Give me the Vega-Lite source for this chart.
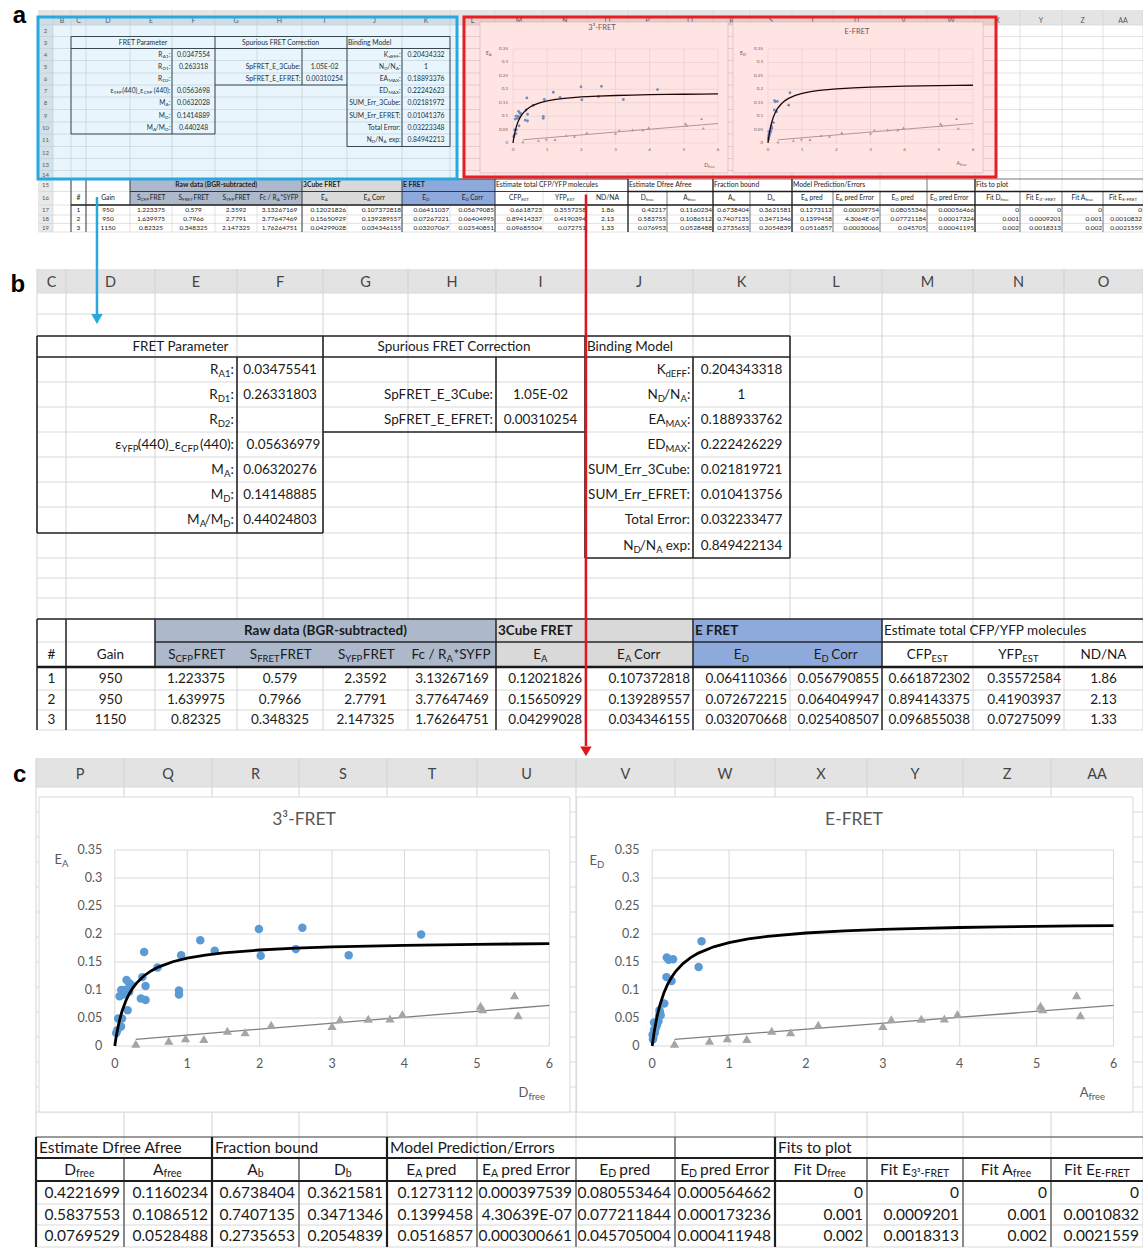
{
"$schema":"https://vega.github.io/schema/vega-lite/v6.json",
"width":1143,"height":1249,"padding":0,"autosize":{"type":"none"},
"background":"#ffffff",
"config":{"view":{"stroke":null},"axis":{"disable":true},"legend":{"disable":true},"font":"Lato"},
"datasets":{
"colbounds":[{"col":1},{"col":2},{"col":3},{"col":4},{"col":5},{"col":6},{"col":7},{"col":8},{"col":9},{"col":10},{"col":11},{"col":12},{"col":13},{"col":14},{"col":15},{"col":16},{"col":17},{"col":18},{"col":19},{"col":20},{"col":21},{"col":22},{"col":23},{"col":24},{"col":25},{"col":26},{"col":27},{"col":28}],
"rowbounds":[{"row":0},{"row":1},{"row":2},{"row":3},{"row":4},{"row":5},{"row":6},{"row":7},{"row":8},{"row":9},{"row":10},{"row":11},{"row":12},{"row":13},{"row":14},{"row":15},{"row":16},{"row":17},{"row":18},{"row":19},{"row":20}],
"letters":[{"col":2.5,"t":"B"},{"col":3.5,"t":"C"},{"col":4.5,"t":"D"},{"col":5.5,"t":"E"},{"col":6.5,"t":"F"},{"col":7.5,"t":"G"},{"col":8.5,"t":"H"},{"col":9.5,"t":"I"},{"col":10.5,"t":"J"},{"col":11.5,"t":"K"},{"col":12.5,"t":"L"},{"col":13.5,"t":"M"},{"col":14.5,"t":"N"},{"col":15.5,"t":"O"},{"col":16.5,"t":"P"},{"col":17.5,"t":"Q"},{"col":18.5,"t":"R"},{"col":19.5,"t":"S"},{"col":20.5,"t":"T"},{"col":21.5,"t":"U"},{"col":22.5,"t":"V"},{"col":23.5,"t":"W"},{"col":24.5,"t":"X"},{"col":25.5,"t":"Y"},{"col":26.5,"t":"Z"},{"col":27.5,"t":"AA"}],
"rownums":[{"row":2.5,"t":"2"},{"row":3.5,"t":"3"},{"row":4.5,"t":"4"},{"row":5.5,"t":"5"},{"row":6.5,"t":"6"},{"row":7.5,"t":"7"},{"row":8.5,"t":"8"},{"row":9.5,"t":"9"},{"row":10.5,"t":"10"},{"row":11.5,"t":"11"},{"row":12.5,"t":"12"},{"row":13.5,"t":"13"},{"row":14.5,"t":"14"},{"row":15.5,"t":"15"},{"row":16.5,"t":"16"},{"row":17.5,"t":"17"},{"row":18.5,"t":"18"},{"row":19.5,"t":"19"}],
"left_fills":[{"col":5,"col2":9,"row":15,"row2":17,"group":"Raw data"},{"col":9,"col2":11,"row":15,"row2":17,"group":"3Cube FRET"},{"col":11,"col2":13,"row":15,"row2":17,"group":"E FRET"}],
"a_chartareas":[{"col":12.667,"col2":18.405,"row":1.8,"row2":14.29,"chart":"3³-FRET"},{"col":18.54,"col2":24.18,"row":1.8,"row2":14.29,"chart":"E-FRET"}],
"c_chartareas":[{"col":16.034,"col2":21.939,"row":1.4,"row2":14,"chart":"3³-FRET"},{"col":22.006,"col2":27.891,"row":1.4,"row2":14,"chart":"E-FRET"}],
"top_lines":[{"col":3,"col2":12,"row":3,"row2":3},{"col":3,"col2":12,"row":4,"row2":4},{"col":3,"col2":7,"row":11,"row2":11},{"col":7,"col2":10,"row":7,"row2":7},{"col":10,"col2":12,"row":12,"row2":12},{"col":3,"col2":3,"row":3,"row2":11},{"col":7,"col2":7,"row":3,"row2":11},{"col":10,"col2":10,"row":3,"row2":12},{"col":12,"col2":12,"row":3,"row2":12},{"col":6,"col2":6,"row":4,"row2":11},{"col":9,"col2":9,"row":4,"row2":7},{"col":11,"col2":11,"row":4,"row2":12}],
"left_lines":[{"col":3,"col2":16,"row":15,"row2":15},{"col":5,"col2":16,"row":16,"row2":16},{"col":3,"col2":3,"row":15,"row2":20},{"col":4,"col2":4,"row":15,"row2":20},{"col":5,"col2":5,"row":15,"row2":17},{"col":9,"col2":9,"row":15,"row2":20},{"col":11,"col2":11,"row":15,"row2":20},{"col":13,"col2":13,"row":15,"row2":20}],
"left_thick":[{"col":3,"col2":16,"row":17,"row2":17}],
"right_lines":[{"col":16,"col2":28,"row":15,"row2":15},{"col":17,"col2":17,"row":16,"row2":20},{"col":19,"col2":19,"row":16,"row2":20},{"col":21,"col2":21,"row":16,"row2":20},{"col":22,"col2":22,"row":16,"row2":20},{"col":23,"col2":23,"row":15,"row2":20},{"col":25,"col2":25,"row":16,"row2":20},{"col":26,"col2":26,"row":16,"row2":20},{"col":27,"col2":27,"row":16,"row2":20}],
"right_thick":[{"col":16,"col2":28,"row":16,"row2":16},{"col":16,"col2":28,"row":17,"row2":17},{"col":16,"col2":16,"row":15,"row2":20},{"col":18,"col2":18,"row":15,"row2":20},{"col":20,"col2":20,"row":15,"row2":20},{"col":24,"col2":24,"row":15,"row2":20}],
"lab_c":[{"col":5.311,"row":3.5,"t":"FRET Parameter"},{"col":8.523,"row":3.5,"t":"Spurious FRET Correction"},{"col":3.5,"row":16.5,"t":"#"},{"col":4.5,"row":16.5,"t":"Gain"},{"col":15.5,"row":16.5,"t":"ND/NA"}],
"lab_r":[{"col":9,"row":5.5,"t":"SpFRET_E_3Cube:"},{"col":9,"row":6.5,"t":"SpFRET_E_EFRET:"},{"col":11,"row":8.5,"t":"SUM_Err_3Cube:"},{"col":11,"row":9.5,"t":"SUM_Err_EFRET:"},{"col":11,"row":10.5,"t":"Total Error:"}],
"lab_l":[{"col":10,"row":3.5,"t":"Binding Model"},{"col":13,"row":15.5,"t":"Estimate total CFP/YFP molecules"},{"col":16,"row":15.5,"t":"Estimate Dfree Afree"},{"col":18,"row":15.5,"t":"Fraction bound"},{"col":20,"row":15.5,"t":"Model Prediction/Errors"},{"col":24,"row":15.5,"t":"Fits to plot"}],
"lab_bold_c":[{"col":7.029,"row":15.5,"t":"Raw data (BGR-subtracted)"}],
"lab_bold_l":[{"col":9,"row":15.5,"t":"3Cube FRET"},{"col":11,"row":15.5,"t":"E FRET"}],
"seg_r":[{"col":5.9634,"row":4.5,"t":":"},{"col":5.7732,"row":4.5,"t":"R"},{"col":5.9634,"row":5.5,"t":":"},{"col":5.7659,"row":5.5,"t":"R"},{"col":5.9634,"row":6.5,"t":":"},{"col":5.7659,"row":6.5,"t":"R"},{"col":5.9634,"row":7.5,"t":"(440):"},{"col":5.3159,"row":7.5,"t":"(440)_ε"},{"col":4.6225,"row":7.5,"t":"ε"},{"col":5.9634,"row":8.5,"t":":"},{"col":5.8402,"row":8.5,"t":"M"},{"col":5.9634,"row":9.5,"t":":"},{"col":5.8329,"row":9.5,"t":"M"},{"col":5.9634,"row":10.5,"t":":"},{"col":5.8329,"row":10.5,"t":"/M"},{"col":5.5439,"row":10.5,"t":"M"},{"col":10.9769,"row":4.5,"t":":"},{"col":10.7463,"row":4.5,"t":"K"},{"col":10.9769,"row":5.5,"t":":"},{"col":10.8833,"row":5.5,"t":"/N"},{"col":10.675,"row":5.5,"t":"N"},{"col":10.9769,"row":6.5,"t":":"},{"col":10.7454,"row":6.5,"t":"EA"},{"col":10.9769,"row":7.5,"t":":"},{"col":10.7454,"row":7.5,"t":"ED"},{"col":10.9769,"row":11.5,"t":"exp:"},{"col":10.6583,"row":11.5,"t":"/N"},{"col":10.45,"row":11.5,"t":"N"},{"col":5.25,"row":16.5,"t":"S"},{"col":6.2349,"row":16.5,"t":"S"},{"col":7.2618,"row":16.5,"t":"S"},{"col":8.4369,"row":16.5,"t":"Fc / R"},{"col":9.5051,"row":16.5,"t":"E"},{"col":10.3694,"row":16.5,"t":"E"},{"col":11.5015,"row":16.5,"t":"E"},{"col":12.3435,"row":16.5,"t":"E"},{"col":13.5445,"row":16.5,"t":"CFP"},{"col":14.5418,"row":16.5,"t":"YFP"},{"col":16.4551,"row":16.5,"t":"D"},{"col":17.4489,"row":16.5,"t":"A"},{"col":18.5253,"row":16.5,"t":"A"},{"col":19.5313,"row":16.5,"t":"D"},{"col":20.3128,"row":16.5,"t":"E"},{"col":21.1409,"row":16.5,"t":"E"},{"col":22.3263,"row":16.5,"t":"E"},{"col":23.141,"row":16.5,"t":"E"},{"col":24.569,"row":16.5,"t":"Fit D"},{"col":25.4583,"row":16.5,"t":"Fit E"},{"col":26.5659,"row":16.5,"t":"Fit A"},{"col":27.4783,"row":16.5,"t":"Fit E"}],
"sub_r":[{"col":5.9195,"row":4.5,"t":"A1"},{"col":5.9195,"row":5.5,"t":"D1"},{"col":5.9195,"row":6.5,"t":"D2"},{"col":5.5305,"row":7.5,"t":"CFP"},{"col":4.8146,"row":7.5,"t":"YFP"},{"col":5.9195,"row":8.5,"t":"A"},{"col":5.9195,"row":9.5,"t":"D"},{"col":5.9195,"row":10.5,"t":"D"},{"col":5.6232,"row":10.5,"t":"A"},{"col":10.9435,"row":4.5,"t":"dEFF"},{"col":10.9435,"row":5.5,"t":"A"},{"col":10.7407,"row":5.5,"t":"D"},{"col":10.9435,"row":6.5,"t":"MAX"},{"col":10.9435,"row":7.5,"t":"MAX"},{"col":10.7185,"row":11.5,"t":"A"},{"col":10.5157,"row":11.5,"t":"D"}],
"sub_l":[{"col":5.25,"row":16.5,"t":"CFP"},{"col":6.2349,"row":16.5,"t":"FRET"},{"col":7.2618,"row":16.5,"t":"YFP"},{"col":8.4369,"row":16.5,"t":"A"},{"col":9.5051,"row":16.5,"t":"A"},{"col":10.3694,"row":16.5,"t":"A"},{"col":11.5015,"row":16.5,"t":"D"},{"col":12.3435,"row":16.5,"t":"D"},{"col":13.5445,"row":16.5,"t":"EST"},{"col":14.5418,"row":16.5,"t":"EST"},{"col":16.4551,"row":16.5,"t":"free"},{"col":17.4489,"row":16.5,"t":"free"},{"col":18.5253,"row":16.5,"t":"b"},{"col":19.5313,"row":16.5,"t":"b"},{"col":20.3128,"row":16.5,"t":"A"},{"col":21.1409,"row":16.5,"t":"A"},{"col":22.3263,"row":16.5,"t":"D"},{"col":23.141,"row":16.5,"t":"D"},{"col":24.569,"row":16.5,"t":"free"},{"col":25.4583,"row":16.5,"t":"3³-FRET"},{"col":26.5659,"row":16.5,"t":"free"},{"col":27.4783,"row":16.5,"t":"E-FRET"}],
"seg_l":[{"col":5.4707,"row":16.5,"t":"FRET"},{"col":6.4988,"row":16.5,"t":"FRET"},{"col":7.4688,"row":16.5,"t":"FRET"},{"col":8.5165,"row":16.5,"t":"*SYFP"},{"col":10.4537,"row":16.5,"t":"Corr"},{"col":12.4489,"row":16.5,"t":"Corr"},{"col":20.4272,"row":16.5,"t":"pred"},{"col":21.2449,"row":16.5,"t":"pred Error"},{"col":22.4374,"row":16.5,"t":"pred"},{"col":23.251,"row":16.5,"t":"pred Error"}],
"bot_c":[{"col":3.5,"row":17.5,"t":"1"},{"col":3.5,"row":18.5,"t":"2"},{"col":3.5,"row":19.5,"t":"3"},{"col":4.5,"row":17.5,"t":"950"},{"col":4.5,"row":18.5,"t":"950"},{"col":4.5,"row":19.5,"t":"1150"},{"col":5.5,"row":17.5,"t":"1.223375"},{"col":5.5,"row":18.5,"t":"1.639975"},{"col":5.5,"row":19.5,"t":"0.82325"},{"col":6.5,"row":17.5,"t":"0.579"},{"col":6.5,"row":18.5,"t":"0.7966"},{"col":6.5,"row":19.5,"t":"0.348325"},{"col":7.5,"row":17.5,"t":"2.3592"},{"col":7.5,"row":18.5,"t":"2.7791"},{"col":7.5,"row":19.5,"t":"2.147325"},{"col":8.5,"row":17.5,"t":"3.13267169"},{"col":8.5,"row":18.5,"t":"3.77647469"},{"col":8.5,"row":19.5,"t":"1.76264751"},{"col":15.5,"row":17.5,"t":"1.86"},{"col":15.5,"row":18.5,"t":"2.13"},{"col":15.5,"row":19.5,"t":"1.33"}],
"a_top_vals":[{"col":6.5,"row":4.5,"t":"0.0347554"},{"col":6.5,"row":5.5,"t":"0.263318"},{"col":6.5,"row":7.5,"t":"0.0563698"},{"col":6.5,"row":8.5,"t":"0.0632028"},{"col":6.5,"row":9.5,"t":"0.1414889"},{"col":6.5,"row":10.5,"t":"0.440248"},{"col":9.5,"row":5.5,"t":"1.05E-02"},{"col":9.5,"row":6.5,"t":"0.00310254"},{"col":11.5,"row":4.5,"t":"0.20434332"},{"col":11.5,"row":5.5,"t":"1"},{"col":11.5,"row":6.5,"t":"0.18893376"},{"col":11.5,"row":7.5,"t":"0.22242623"},{"col":11.5,"row":8.5,"t":"0.02181972"},{"col":11.5,"row":9.5,"t":"0.01041376"},{"col":11.5,"row":10.5,"t":"0.03223348"},{"col":11.5,"row":11.5,"t":"0.84942213"}],
"b_top_vals":[{"col":6.5,"row":4.5,"t":"0.03475541"},{"col":6.5,"row":5.5,"t":"0.26331803"},{"col":6.54,"row":7.5,"t":"0.05636979"},{"col":6.5,"row":8.5,"t":"0.06320276"},{"col":6.5,"row":9.5,"t":"0.14148885"},{"col":6.5,"row":10.5,"t":"0.44024803"},{"col":9.5,"row":5.5,"t":"1.05E-02"},{"col":9.5,"row":6.5,"t":"0.00310254"},{"col":11.5,"row":4.5,"t":"0.204343318"},{"col":11.5,"row":5.5,"t":"1"},{"col":11.5,"row":6.5,"t":"0.188933762"},{"col":11.5,"row":7.5,"t":"0.222426229"},{"col":11.5,"row":8.5,"t":"0.021819721"},{"col":11.5,"row":9.5,"t":"0.010413756"},{"col":11.5,"row":10.5,"t":"0.032233477"},{"col":11.5,"row":11.5,"t":"0.849422134"}],
"a_bot_r":[{"col":10,"row":17.5,"t":"0.12021826"},{"col":10,"row":18.5,"t":"0.15650929"},{"col":10,"row":19.5,"t":"0.04299028"},{"col":11,"row":17.5,"t":"0.107372818"},{"col":11,"row":18.5,"t":"0.139289557"},{"col":11,"row":19.5,"t":"0.034346155"},{"col":12,"row":17.5,"t":"0.06411037"},{"col":12,"row":18.5,"t":"0.07267221"},{"col":12,"row":19.5,"t":"0.03207067"},{"col":13,"row":17.5,"t":"0.05679085"},{"col":13,"row":18.5,"t":"0.06404995"},{"col":13,"row":19.5,"t":"0.02540851"},{"col":14,"row":17.5,"t":"0.6618723"},{"col":14,"row":18.5,"t":"0.89414337"},{"col":14,"row":19.5,"t":"0.09685504"},{"col":15,"row":17.5,"t":"0.3557258"},{"col":15,"row":18.5,"t":"0.4190394"},{"col":15,"row":19.5,"t":"0.072751"},{"col":17,"row":17.5,"t":"0.42217"},{"col":17,"row":18.5,"t":"0.583755"},{"col":17,"row":19.5,"t":"0.076953"},{"col":18,"row":17.5,"t":"0.1160234"},{"col":18,"row":18.5,"t":"0.1086512"},{"col":18,"row":19.5,"t":"0.0528488"},{"col":19,"row":17.5,"t":"0.6738404"},{"col":19,"row":18.5,"t":"0.7407135"},{"col":19,"row":19.5,"t":"0.2735653"},{"col":20,"row":17.5,"t":"0.3621581"},{"col":20,"row":18.5,"t":"0.3471346"},{"col":20,"row":19.5,"t":"0.2054839"},{"col":21,"row":17.5,"t":"0.1273112"},{"col":21,"row":18.5,"t":"0.1399458"},{"col":21,"row":19.5,"t":"0.0516857"},{"col":22,"row":17.5,"t":"0.00039754"},{"col":22,"row":18.5,"t":"4.3064E-07"},{"col":22,"row":19.5,"t":"0.00030066"},{"col":23,"row":17.5,"t":"0.08055346"},{"col":23,"row":18.5,"t":"0.07721184"},{"col":23,"row":19.5,"t":"0.045705"},{"col":24,"row":17.5,"t":"0.00056466"},{"col":24,"row":18.5,"t":"0.00017324"},{"col":24,"row":19.5,"t":"0.00041195"},{"col":25,"row":17.5,"t":"0"},{"col":25,"row":18.5,"t":"0.001"},{"col":25,"row":19.5,"t":"0.002"},{"col":26,"row":17.5,"t":"0"},{"col":26,"row":18.5,"t":"0.0009201"},{"col":26,"row":19.5,"t":"0.0018313"},{"col":27,"row":17.5,"t":"0"},{"col":27,"row":18.5,"t":"0.001"},{"col":27,"row":19.5,"t":"0.002"},{"col":28,"row":17.5,"t":"0"},{"col":28,"row":18.5,"t":"0.0010832"},{"col":28,"row":19.5,"t":"0.0021559"}],
"b_bot_r":[{"col":10,"row":17.5,"t":"0.12021826"},{"col":10,"row":18.5,"t":"0.15650929"},{"col":10,"row":19.5,"t":"0.04299028"},{"col":11,"row":17.5,"t":"0.107372818"},{"col":11,"row":18.5,"t":"0.139289557"},{"col":11,"row":19.5,"t":"0.034346155"},{"col":12,"row":17.5,"t":"0.064110366"},{"col":12,"row":18.5,"t":"0.072672215"},{"col":12,"row":19.5,"t":"0.032070668"},{"col":13,"row":17.5,"t":"0.056790855"},{"col":13,"row":18.5,"t":"0.064049947"},{"col":13,"row":19.5,"t":"0.025408507"},{"col":14,"row":17.5,"t":"0.661872302"},{"col":14,"row":18.5,"t":"0.894143375"},{"col":14,"row":19.5,"t":"0.096855038"},{"col":15,"row":17.5,"t":"0.35572584"},{"col":15,"row":18.5,"t":"0.41903937"},{"col":15,"row":19.5,"t":"0.07275099"}],
"c_bot_r":[{"col":17,"row":17.5,"t":"0.4221699"},{"col":17,"row":18.5,"t":"0.5837553"},{"col":17,"row":19.5,"t":"0.0769529"},{"col":18,"row":17.5,"t":"0.1160234"},{"col":18,"row":18.5,"t":"0.1086512"},{"col":18,"row":19.5,"t":"0.0528488"},{"col":19,"row":17.5,"t":"0.6738404"},{"col":19,"row":18.5,"t":"0.7407135"},{"col":19,"row":19.5,"t":"0.2735653"},{"col":20,"row":17.5,"t":"0.3621581"},{"col":20,"row":18.5,"t":"0.3471346"},{"col":20,"row":19.5,"t":"0.2054839"},{"col":21,"row":17.5,"t":"0.1273112"},{"col":21,"row":18.5,"t":"0.1399458"},{"col":21,"row":19.5,"t":"0.0516857"},{"col":22,"row":17.5,"t":"0.000397539"},{"col":22,"row":18.5,"t":"4.30639E-07"},{"col":22,"row":19.5,"t":"0.000300661"},{"col":23,"row":17.5,"t":"0.080553464"},{"col":23,"row":18.5,"t":"0.077211844"},{"col":23,"row":19.5,"t":"0.045705004"},{"col":24,"row":17.5,"t":"0.000564662"},{"col":24,"row":18.5,"t":"0.000173236"},{"col":24,"row":19.5,"t":"0.000411948"},{"col":25,"row":17.5,"t":"0"},{"col":25,"row":18.5,"t":"0.001"},{"col":25,"row":19.5,"t":"0.002"},{"col":26,"row":17.5,"t":"0"},{"col":26,"row":18.5,"t":"0.0009201"},{"col":26,"row":19.5,"t":"0.0018313"},{"col":27,"row":17.5,"t":"0"},{"col":27,"row":18.5,"t":"0.001"},{"col":27,"row":19.5,"t":"0.002"},{"col":28,"row":17.5,"t":"0"},{"col":28,"row":18.5,"t":"0.0010832"},{"col":28,"row":19.5,"t":"0.0021559"}],
"pts_3cube":[{"conc":0.02,"E":0.023},{"conc":0.035,"E":0.028},{"conc":0.086,"E":0.035},{"conc":0.046,"E":0.049},{"conc":0.1,"E":0.049},{"conc":0.066,"E":0.089},{"conc":0.09,"E":0.1},{"conc":0.127,"E":0.092},{"conc":0.137,"E":0.1},{"conc":0.162,"E":0.118},{"conc":0.198,"E":0.097},{"conc":0.2,"E":0.112},{"conc":0.177,"E":0.064},{"conc":0.228,"E":0.109},{"conc":0.38,"E":0.123},{"conc":0.36,"E":0.085},{"conc":0.425,"E":0.082},{"conc":0.425,"E":0.107},{"conc":0.405,"E":0.168},{"conc":0.59,"E":0.14},{"conc":0.886,"E":0.099},{"conc":0.886,"E":0.092},{"conc":0.916,"E":0.162},{"conc":1.18,"E":0.189},{"conc":1.38,"E":0.17},{"conc":1.99,"E":0.209},{"conc":2.015,"E":0.161},{"conc":2.5,"E":0.173},{"conc":2.59,"E":0.211},{"conc":3.23,"E":0.162},{"conc":4.23,"E":0.199}],
"pts_efret":[{"conc":0.005,"E":0.02},{"conc":0.01,"E":0.012},{"conc":0.014,"E":0.015},{"conc":0.024,"E":0.029},{"conc":0.033,"E":0.023},{"conc":0.024,"E":0.042},{"conc":0.04,"E":0.03},{"conc":0.052,"E":0.035},{"conc":0.062,"E":0.038},{"conc":0.081,"E":0.044},{"conc":0.09,"E":0.054},{"conc":0.1,"E":0.06},{"conc":0.095,"E":0.064},{"conc":0.11,"E":0.055},{"conc":0.157,"E":0.076},{"conc":0.185,"E":0.123},{"conc":0.252,"E":0.116},{"conc":0.19,"E":0.158},{"conc":0.214,"E":0.154},{"conc":0.271,"E":0.155},{"conc":0.604,"E":0.141},{"conc":0.642,"E":0.187}],
"tri":[{"conc":0.29,"E":0.004},{"conc":0.745,"E":0.0095},{"conc":0.977,"E":0.0137},{"conc":1.23,"E":0.0125},{"conc":1.555,"E":0.0274},{"conc":1.8,"E":0.0244},{"conc":2.16,"E":0.038},{"conc":3.0,"E":0.0357},{"conc":3.11,"E":0.0476},{"conc":3.5,"E":0.0488},{"conc":3.8,"E":0.049},{"conc":3.97,"E":0.057},{"conc":5.05,"E":0.072},{"conc":5.08,"E":0.0655},{"conc":5.52,"E":0.0905},{"conc":5.57,"E":0.055}],
"trend":[{"conc":0.29,"E":0.0119},{"conc":6,"E":0.0726}],
"fit_3cube":[{"conc":0,"E":0},{"conc":0.005,"E":0.00451},{"conc":0.01,"E":0.00882},{"conc":0.02,"E":0.01684},{"conc":0.03,"E":0.02419},{"conc":0.05,"E":0.03714},{"conc":0.07,"E":0.04821},{"conc":0.1,"E":0.06208},{"conc":0.15,"E":0.07998},{"conc":0.2,"E":0.09345},{"conc":0.25,"E":0.10396},{"conc":0.3,"E":0.11238},{"conc":0.4,"E":0.12505},{"conc":0.5,"E":0.13412},{"conc":0.6,"E":0.14093},{"conc":0.8,"E":0.15049},{"conc":1,"E":0.15687},{"conc":1.25,"E":0.16238},{"conc":1.5,"E":0.16628},{"conc":2,"E":0.17142},{"conc":2.5,"E":0.17466},{"conc":3,"E":0.17689},{"conc":3.5,"E":0.17851},{"conc":4,"E":0.17975},{"conc":4.5,"E":0.18072},{"conc":5,"E":0.18151},{"conc":5.5,"E":0.18216},{"conc":6,"E":0.18271}],
"fit_efret":[{"conc":0,"E":0},{"conc":0.005,"E":0.00531},{"conc":0.01,"E":0.01038},{"conc":0.02,"E":0.01983},{"conc":0.03,"E":0.02848},{"conc":0.05,"E":0.04373},{"conc":0.07,"E":0.05676},{"conc":0.1,"E":0.07309},{"conc":0.15,"E":0.09416},{"conc":0.2,"E":0.11002},{"conc":0.25,"E":0.12239},{"conc":0.3,"E":0.13231},{"conc":0.4,"E":0.14722},{"conc":0.5,"E":0.1579},{"conc":0.6,"E":0.16592},{"conc":0.8,"E":0.17718},{"conc":1,"E":0.18469},{"conc":1.25,"E":0.19118},{"conc":1.5,"E":0.19576},{"conc":2,"E":0.20181},{"conc":2.5,"E":0.20563},{"conc":3,"E":0.20825},{"conc":3.5,"E":0.21016},{"conc":4,"E":0.21162},{"conc":4.5,"E":0.21277},{"conc":5,"E":0.2137},{"conc":5.5,"E":0.21446},{"conc":6,"E":0.2151}],
"yticks":[{"v":0},{"v":0.05},{"v":0.1},{"v":0.15},{"v":0.2},{"v":0.25},{"v":0.3},{"v":0.35}],
"xticks":[{"v":0},{"v":1},{"v":2},{"v":3},{"v":4},{"v":5},{"v":6}]
},
"resolve":{"scale":{"x":"independent","y":"independent","color":"independent"}},
"layer":[
{
"layer":[
{"data":{"values":[{"part":"column header"}]},"mark":{"type":"rect","fill":"#e4e4e4"},"encoding":{"x":{"datum":1,"type":"quantitative"},"x2":{"datum":28},"y":{"datum":1,"type":"quantitative"},"y2":{"datum":2}}},
{"data":{"values":[{"part":"row header"}]},"mark":{"type":"rect","fill":"#e9e9e9"},"encoding":{"x":{"datum":1,"type":"quantitative"},"x2":{"datum":2},"y":{"datum":2,"type":"quantitative"},"y2":{"datum":20}}},
{"data":{"name":"colbounds"},"transform":[{"filter":"datum.col >= 2"}],"mark":{"type":"rule","color":"#d0d0d0","strokeWidth":0.6},"encoding":{"x":{"field":"col","type":"quantitative"},"y":{"datum":1,"type":"quantitative"},"y2":{"datum":20}}},
{"data":{"name":"rowbounds"},"transform":[{"filter":"datum.row >= 2"}],"mark":{"type":"rule","color":"#d0d0d0","strokeWidth":0.6},"encoding":{"y":{"field":"row","type":"quantitative"},"x":{"datum":1,"type":"quantitative"},"x2":{"datum":28}}},
{"data":{"name":"letters"},"mark":{"type":"text","fontSize":7,"color":"#555555","align":"center","baseline":"middle"},"encoding":{"x":{"field":"col","type":"quantitative"},"y":{"datum":1.73,"type":"quantitative"},"text":{"field":"t","type":"nominal"}}},
{"data":{"name":"rownums"},"mark":{"type":"text","fontSize":6,"color":"#555555","align":"center","baseline":"middle"},"encoding":{"y":{"field":"row","type":"quantitative"},"x":{"datum":1.5,"type":"quantitative"},"text":{"field":"t","type":"nominal"}}},
{
"encoding":{"x":{"field":"col","type":"quantitative","axis":null,"scale":{"domain":[0,1,2,3,4,5,6,7,8,9,10,11,12,13,14,15,16,17,18,19,20,21,22,23,24,25,26,27,28],"range":[0,38,53,71,86,130,172,215,257,302,347,402,450,495,543,587,628,667,713,750,792,833,880,927,975,1020,1062,1103,1143],"nice":false,"zero":false}},
"y":{"field":"row","type":"quantitative","axis":null,"scale":{"domain":[0,1,2,3,4,5,6,7,8,9,10,11,12,13,14,15,16,17,18,19,20],"range":[0,10,25,36.5,48.5,60.5,73,85,97,109.5,122,134,146.5,158.5,170.5,179,191.5,205,215,223.5,232],"nice":false,"zero":false}}},
"layer":[
{"data":{"name":"left_fills"},"mark":{"type":"rect"},"encoding":{"x2":{"field":"col2"},"y2":{"field":"row2"},"color":{"field":"group","type":"nominal","legend":null,"scale":{"domain":["Raw data","3Cube FRET","E FRET"],"range":["#adb9cb","#d9d9d9","#8eaadc"]}}}},
{"data":{"name":"a_chartareas"},"mark":{"type":"rect","fill":"#ffffff","stroke":"#c8c8c8","strokeWidth":0.6},"encoding":{"x2":{"field":"col2"},"y2":{"field":"row2"}}},
{"data":{"name":"top_lines"},"mark":{"type":"rule","color":"#2a2a2a","strokeWidth":0.9},"encoding":{"x2":{"field":"col2"},"y2":{"field":"row2"}}},
{"data":{"name":"left_lines"},"mark":{"type":"rule","color":"#2a2a2a","strokeWidth":0.9},"encoding":{"x2":{"field":"col2"},"y2":{"field":"row2"}}},
{"data":{"name":"right_lines"},"mark":{"type":"rule","color":"#555555","strokeWidth":0.7},"encoding":{"x2":{"field":"col2"},"y2":{"field":"row2"}}},
{"data":{"name":"left_thick"},"mark":{"type":"rule","color":"#1e1e1e","strokeWidth":1.6},"encoding":{"x2":{"field":"col2"},"y2":{"field":"row2"}}},
{"data":{"name":"right_thick"},"mark":{"type":"rule","color":"#1e1e1e","strokeWidth":1.3},"encoding":{"x2":{"field":"col2"},"y2":{"field":"row2"}}},
{"data":{"name":"lab_c"},"mark":{"type":"text","fontSize":6.8,"color":"#222222","align":"center","baseline":"middle"},"encoding":{"text":{"field":"t","type":"nominal"}}},
{"data":{"name":"lab_r"},"mark":{"type":"text","fontSize":6.8,"color":"#222222","align":"right","baseline":"middle","dx":-1.5},"encoding":{"text":{"field":"t","type":"nominal"}}},
{"data":{"name":"lab_l"},"mark":{"type":"text","fontSize":6.8,"color":"#222222","align":"left","baseline":"middle","dx":1},"encoding":{"text":{"field":"t","type":"nominal"}}},
{"data":{"name":"lab_bold_c"},"mark":{"type":"text","fontSize":6.8,"fontWeight":"bold","color":"#222222","align":"center","baseline":"middle"},"encoding":{"text":{"field":"t","type":"nominal"}}},
{"data":{"name":"lab_bold_l"},"mark":{"type":"text","fontSize":6.8,"fontWeight":"bold","color":"#222222","align":"left","baseline":"middle","dx":1},"encoding":{"text":{"field":"t","type":"nominal"}}},
{"data":{"name":"seg_r"},"mark":{"type":"text","fontSize":6.6,"color":"#222222","align":"right","baseline":"middle"},"encoding":{"text":{"field":"t","type":"nominal"}}},
{"data":{"name":"seg_l"},"mark":{"type":"text","fontSize":6.6,"color":"#222222","align":"left","baseline":"middle"},"encoding":{"text":{"field":"t","type":"nominal"}}},
{"data":{"name":"sub_r"},"mark":{"type":"text","fontSize":4.6,"color":"#222222","align":"right","baseline":"middle","dy":2},"encoding":{"text":{"field":"t","type":"nominal"}}},
{"data":{"name":"sub_l"},"mark":{"type":"text","fontSize":4.6,"color":"#222222","align":"left","baseline":"middle","dy":2},"encoding":{"text":{"field":"t","type":"nominal"}}},
{"data":{"name":"a_top_vals"},"mark":{"type":"text","fontSize":6.8,"color":"#222222","align":"center","baseline":"middle"},"encoding":{"text":{"field":"t","type":"nominal"}}},
{"data":{"name":"bot_c"},"mark":{"type":"text","fontSize":6.5,"color":"#222222","align":"center","baseline":"middle"},"encoding":{"text":{"field":"t","type":"nominal"}}},
{"data":{"name":"a_bot_r"},"mark":{"type":"text","fontSize":6.5,"color":"#222222","align":"right","baseline":"middle","dx":-1},"encoding":{"text":{"field":"t","type":"nominal"}}}
]
},
{"data":{"values":[{"panel":"a"}]},"mark":{"type":"text","font":"Liberation Sans","fontWeight":"bold","fontSize":24,"color":"#000000","align":"left","baseline":"alphabetic"},"encoding":{"x":{"datum":0.334,"type":"quantitative"},"y":{"datum":1.867,"type":"quantitative"},"text":{"field":"panel","type":"nominal"}}}
]
},
{
"layer":[
{"data":{"name":"yticks"},"mark":{"type":"rule","color":"#dcdcdc","strokeWidth":0.5},"encoding":{"y":{"field":"v","type":"quantitative"},"x":{"datum":0,"type":"quantitative"},"x2":{"datum":6}}},
{"data":{"name":"xticks"},"mark":{"type":"rule","color":"#dcdcdc","strokeWidth":0.5},"encoding":{"x":{"field":"v","type":"quantitative"},"y":{"datum":0,"type":"quantitative"},"y2":{"datum":0.35}}},
{"data":{"name":"yticks"},"mark":{"type":"text","fontSize":4.5,"color":"#666666","align":"right","baseline":"middle","dx":-5},"encoding":{"y":{"field":"v","type":"quantitative"},"x":{"datum":0,"type":"quantitative"},"text":{"field":"v","type":"quantitative","format":".2~f"}}},
{"data":{"name":"xticks"},"mark":{"type":"text","fontSize":4.5,"color":"#666666","align":"center","baseline":"middle","dy":7},"encoding":{"x":{"field":"v","type":"quantitative"},"y":{"datum":0,"type":"quantitative"},"text":{"field":"v","type":"quantitative","format":"d"}}},
{"data":{"values":[{"title":"3³-FRET"}]},"mark":{"type":"text","fontSize":7.5,"color":"#595959","align":"center","baseline":"middle","dx":-13.5,"dy":-21},"encoding":{"x":{"datum":3,"type":"quantitative"},"y":{"datum":0.35,"type":"quantitative"},"text":{"field":"title","type":"nominal"}}},
{"data":{"values":[{"t":"E","sub":"A"}]},"mark":{"type":"text","fontSize":5,"color":"#595959","align":"right","baseline":"middle","dx":-24,"dy":4},"encoding":{"x":{"datum":0,"type":"quantitative"},"y":{"datum":0.35,"type":"quantitative"},"text":{"field":"t","type":"nominal"}}},
{"data":{"values":[{"t":"E","sub":"A"}]},"mark":{"type":"text","fontSize":3.8,"color":"#595959","align":"left","baseline":"middle","dx":-24,"dy":5.5},"encoding":{"x":{"datum":0,"type":"quantitative"},"y":{"datum":0.35,"type":"quantitative"},"text":{"field":"sub","type":"nominal"}}},
{"data":{"values":[{"t":"D","sub":"free"}]},"mark":{"type":"text","fontSize":5,"color":"#595959","align":"right","baseline":"middle","dx":-10,"dy":22},"encoding":{"x":{"datum":6,"type":"quantitative"},"y":{"datum":0,"type":"quantitative"},"text":{"field":"t","type":"nominal"}}},
{"data":{"values":[{"t":"D","sub":"free"}]},"mark":{"type":"text","fontSize":3.8,"color":"#595959","align":"left","baseline":"middle","dx":-10,"dy":23.5},"encoding":{"x":{"datum":6,"type":"quantitative"},"y":{"datum":0,"type":"quantitative"},"text":{"field":"sub","type":"nominal"}}},
{
"encoding":{"x":{"field":"conc","type":"quantitative","axis":null,"scale":{"domain":[0,6],"range":[513,718],"nice":false,"zero":false}},"y":{"field":"E","type":"quantitative","axis":null,"scale":{"domain":[0,0.35],"range":[143,49],"nice":false,"zero":false}}},
"layer":[
{"data":{"name":"trend"},"mark":{"type":"line","color":"#7f7f7f","strokeWidth":0.7},"encoding":{}},
{"data":{"name":"tri"},"mark":{"type":"point","shape":"triangle-up","filled":true,"color":"#a5a5a5","opacity":1,"size":9},"encoding":{}},
{"data":{"name":"pts_3cube"},"mark":{"type":"point","shape":"circle","filled":true,"color":"#5b9bd5","opacity":1,"size":8},"encoding":{}},
{"data":{"name":"fit_3cube"},"mark":{"type":"line","color":"#000000","strokeWidth":1.3},"encoding":{}}
]
}
]
},
{
"layer":[
{"data":{"name":"yticks"},"mark":{"type":"rule","color":"#dcdcdc","strokeWidth":0.5},"encoding":{"y":{"field":"v","type":"quantitative"},"x":{"datum":0,"type":"quantitative"},"x2":{"datum":6}}},
{"data":{"name":"xticks"},"mark":{"type":"rule","color":"#dcdcdc","strokeWidth":0.5},"encoding":{"x":{"field":"v","type":"quantitative"},"y":{"datum":0,"type":"quantitative"},"y2":{"datum":0.35}}},
{"data":{"name":"yticks"},"mark":{"type":"text","fontSize":4.5,"color":"#666666","align":"right","baseline":"middle","dx":-5},"encoding":{"y":{"field":"v","type":"quantitative"},"x":{"datum":0,"type":"quantitative"},"text":{"field":"v","type":"quantitative","format":".2~f"}}},
{"data":{"name":"xticks"},"mark":{"type":"text","fontSize":4.5,"color":"#666666","align":"center","baseline":"middle","dy":7},"encoding":{"x":{"field":"v","type":"quantitative"},"y":{"datum":0,"type":"quantitative"},"text":{"field":"v","type":"quantitative","format":"d"}}},
{"data":{"values":[{"title":"E-FRET"}]},"mark":{"type":"text","fontSize":7.5,"color":"#595959","align":"center","baseline":"middle","dx":-13.5,"dy":-17},"encoding":{"x":{"datum":3,"type":"quantitative"},"y":{"datum":0.35,"type":"quantitative"},"text":{"field":"title","type":"nominal"}}},
{"data":{"values":[{"t":"E","sub":"D"}]},"mark":{"type":"text","fontSize":5,"color":"#595959","align":"right","baseline":"middle","dx":-25,"dy":4},"encoding":{"x":{"datum":0,"type":"quantitative"},"y":{"datum":0.35,"type":"quantitative"},"text":{"field":"t","type":"nominal"}}},
{"data":{"values":[{"t":"E","sub":"D"}]},"mark":{"type":"text","fontSize":3.8,"color":"#595959","align":"left","baseline":"middle","dx":-25,"dy":5.5},"encoding":{"x":{"datum":0,"type":"quantitative"},"y":{"datum":0.35,"type":"quantitative"},"text":{"field":"sub","type":"nominal"}}},
{"data":{"values":[{"t":"A","sub":"free"}]},"mark":{"type":"text","fontSize":5,"color":"#595959","align":"right","baseline":"middle","dx":-13,"dy":20},"encoding":{"x":{"datum":6,"type":"quantitative"},"y":{"datum":0,"type":"quantitative"},"text":{"field":"t","type":"nominal"}}},
{"data":{"values":[{"t":"A","sub":"free"}]},"mark":{"type":"text","fontSize":3.8,"color":"#595959","align":"left","baseline":"middle","dx":-13,"dy":21.5},"encoding":{"x":{"datum":6,"type":"quantitative"},"y":{"datum":0,"type":"quantitative"},"text":{"field":"sub","type":"nominal"}}},
{
"encoding":{"x":{"field":"conc","type":"quantitative","axis":null,"scale":{"domain":[0,6],"range":[768,973],"nice":false,"zero":false}},"y":{"field":"E","type":"quantitative","axis":null,"scale":{"domain":[0,0.35],"range":[143,49],"nice":false,"zero":false}}},
"layer":[
{"data":{"name":"trend"},"mark":{"type":"line","color":"#7f7f7f","strokeWidth":0.7},"encoding":{}},
{"data":{"name":"tri"},"mark":{"type":"point","shape":"triangle-up","filled":true,"color":"#a5a5a5","opacity":1,"size":9},"encoding":{}},
{"data":{"name":"pts_efret"},"mark":{"type":"point","shape":"circle","filled":true,"color":"#5b9bd5","opacity":1,"size":8},"encoding":{}},
{"data":{"name":"fit_efret"},"mark":{"type":"line","color":"#000000","strokeWidth":1.3},"encoding":{}}
]
}
]
},
{
"layer":[
{"data":{"values":[{"region":"spreadsheet block copied to b"}]},"mark":{"type":"rect","fill":"#29a8e0","fillOpacity":0.11,"stroke":"#29a8e0","strokeWidth":3},"encoding":{"x":{"datum":1,"type":"quantitative","axis":null,"scale":{"domain":[0,1,2,3,4,5,6,7,8,9,10,11,12,13,14,15,16,17,18,19,20,21,22,23,24,25,26,27,28],"range":[0,38,53,71,86,130,172,215,257,302,347,402,450,495,543,587,628,667,713,750,792,833,880,927,975,1020,1062,1103,1143],"nice":false,"zero":false}},"x2":{"datum":12.156},"y":{"datum":1.467,"type":"quantitative","axis":null,"scale":{"domain":[0,1,2,3,4,5,6,7,8,9,10,11,12,13,14,15,16,17,18,19,20],"range":[0,10,25,36.5,48.5,60.5,73,85,97,109.5,122,134,146.5,158.5,170.5,179,191.5,205,215,223.5,232],"nice":false,"zero":false}},"y2":{"datum":15}}},
{"data":{"values":[{"region":"charts copied to c"}]},"mark":{"type":"rect","fill":"#ff3030","fillOpacity":0.13,"stroke":"#e51f25","strokeWidth":3},"encoding":{"x":{"datum":12.311,"type":"quantitative"},"x2":{"datum":24.467},"y":{"datum":1.467,"type":"quantitative"},"y2":{"datum":14.765}}}
]
},
{
"layer":[
{"data":{"values":[{"part":"column header"}]},"mark":{"type":"rect","fill":"#e3e3e3"},"encoding":{"x":{"datum":3,"type":"quantitative"},"x2":{"datum":16},"y":{"datum":0,"type":"quantitative"},"y2":{"datum":1}}},
{"data":{"name":"colbounds"},"transform":[{"filter":"datum.col >= 3 && datum.col <= 16"}],"mark":{"type":"rule","color":"#d3d3d3","strokeWidth":1},"encoding":{"x":{"field":"col","type":"quantitative"},"y":{"datum":0,"type":"quantitative"},"y2":{"datum":20}}},
{"data":{"name":"rowbounds"},"transform":[{"filter":"datum.row >= 1"}],"mark":{"type":"rule","color":"#d9d9d9","strokeWidth":1},"encoding":{"y":{"field":"row","type":"quantitative"},"x":{"datum":3,"type":"quantitative"},"x2":{"datum":16}}},
{"data":{"name":"letters"},"transform":[{"filter":"datum.col > 3 && datum.col < 16"}],"mark":{"type":"text","fontSize":14.5,"color":"#444444","align":"center","baseline":"middle"},"encoding":{"x":{"field":"col","type":"quantitative"},"y":{"datum":0.58,"type":"quantitative"},"text":{"field":"t","type":"nominal"}}},
{
"encoding":{"x":{"field":"col","type":"quantitative","axis":null,"scale":{"domain":[2,3,4,5,6,7,8,9,10,11,12,13,14,15,16],"range":[0,37,66,155,237,323,408,496,585,693,790,882,973,1064,1143],"nice":false,"zero":false}},
"y":{"field":"row","type":"quantitative","axis":null,"scale":{"domain":[0,1,2,3,4,5,6,7,8,9,10,11,12,13,14,15,16,17,18,19,20],"range":[269,293,314,336,357,382,407,432,457,482,507,533,558,578,598,619,642,667,690,710,730],"nice":false,"zero":false}}},
"layer":[
{"data":{"name":"left_fills"},"mark":{"type":"rect"},"encoding":{"x2":{"field":"col2"},"y2":{"field":"row2"},"color":{"field":"group","type":"nominal","legend":null,"scale":{"domain":["Raw data","3Cube FRET","E FRET"],"range":["#adb9cb","#d9d9d9","#8eaadc"]}}}},
{"data":{"name":"top_lines"},"mark":{"type":"rule","color":"#262626","strokeWidth":1.6},"encoding":{"x2":{"field":"col2"},"y2":{"field":"row2"}}},
{"data":{"name":"left_lines"},"mark":{"type":"rule","color":"#262626","strokeWidth":1.5},"encoding":{"x2":{"field":"col2"},"y2":{"field":"row2"}}},
{"data":{"name":"left_thick"},"mark":{"type":"rule","color":"#1a1a1a","strokeWidth":2.6},"encoding":{"x2":{"field":"col2"},"y2":{"field":"row2"}}},
{"data":{"name":"lab_c"},"transform":[{"filter":"datum.col < 16"}],"mark":{"type":"text","fontSize":13.5,"color":"#1a1a1a","align":"center","baseline":"middle"},"encoding":{"text":{"field":"t","type":"nominal"}}},
{"data":{"name":"lab_r"},"mark":{"type":"text","fontSize":13.5,"color":"#1a1a1a","align":"right","baseline":"middle","dx":-3},"encoding":{"text":{"field":"t","type":"nominal"}}},
{"data":{"name":"lab_l"},"transform":[{"filter":"datum.col < 16"}],"mark":{"type":"text","fontSize":13.5,"color":"#1a1a1a","align":"left","baseline":"middle","dx":2},"encoding":{"text":{"field":"t","type":"nominal"}}},
{"data":{"name":"lab_bold_c"},"mark":{"type":"text","fontSize":13.5,"fontWeight":"bold","color":"#1a1a1a","align":"center","baseline":"middle"},"encoding":{"text":{"field":"t","type":"nominal"}}},
{"data":{"name":"lab_bold_l"},"mark":{"type":"text","fontSize":13.5,"fontWeight":"bold","color":"#1a1a1a","align":"left","baseline":"middle","dx":2},"encoding":{"text":{"field":"t","type":"nominal"}}},
{"data":{"name":"seg_r"},"transform":[{"filter":"datum.col < 16"}],"mark":{"type":"text","fontSize":13.5,"color":"#1a1a1a","align":"right","baseline":"middle"},"encoding":{"text":{"field":"t","type":"nominal"}}},
{"data":{"name":"seg_l"},"transform":[{"filter":"datum.col < 16"}],"mark":{"type":"text","fontSize":13.5,"color":"#1a1a1a","align":"left","baseline":"middle"},"encoding":{"text":{"field":"t","type":"nominal"}}},
{"data":{"name":"sub_r"},"transform":[{"filter":"datum.col < 16"}],"mark":{"type":"text","fontSize":9.5,"color":"#1a1a1a","align":"right","baseline":"middle","dy":4},"encoding":{"text":{"field":"t","type":"nominal"}}},
{"data":{"name":"sub_l"},"transform":[{"filter":"datum.col < 16"}],"mark":{"type":"text","fontSize":9.5,"color":"#1a1a1a","align":"left","baseline":"middle","dy":4},"encoding":{"text":{"field":"t","type":"nominal"}}},
{"data":{"name":"b_top_vals"},"mark":{"type":"text","fontSize":13.5,"color":"#1a1a1a","align":"center","baseline":"middle"},"encoding":{"text":{"field":"t","type":"nominal"}}},
{"data":{"name":"bot_c"},"mark":{"type":"text","fontSize":13.5,"color":"#1a1a1a","align":"center","baseline":"middle"},"encoding":{"text":{"field":"t","type":"nominal"}}},
{"data":{"name":"b_bot_r"},"mark":{"type":"text","fontSize":13.5,"color":"#1a1a1a","align":"right","baseline":"middle","dx":-3},"encoding":{"text":{"field":"t","type":"nominal"}}}
]
},
{"data":{"values":[{"panel":"b"}]},"mark":{"type":"text","font":"Liberation Sans","fontWeight":"bold","fontSize":24,"color":"#000000","align":"left","baseline":"alphabetic"},"encoding":{"x":{"datum":2.284,"type":"quantitative"},"y":{"datum":0.958,"type":"quantitative"},"text":{"field":"panel","type":"nominal"}}},
{"data":{"values":[{"arrow":"a to b"}]},"mark":{"type":"rule","color":"#29a8e0","strokeWidth":2.5},"encoding":{"x":{"datum":4.348,"type":"quantitative"},"y":{"datum":-3.0,"type":"quantitative"},"y2":{"datum":2.1}}},
{"data":{"values":[{"arrow":"a to b"}]},"mark":{"type":"point","shape":"triangle-down","filled":true,"color":"#29a8e0","opacity":1,"size":130},"encoding":{"x":{"datum":4.348,"type":"quantitative"},"y":{"datum":2.23,"type":"quantitative"}}},
{"data":{"values":[{"arrow":"a to c"}]},"mark":{"type":"rule","color":"#e3141b","strokeWidth":2.5},"encoding":{"x":{"datum":10.009,"type":"quantitative"},"y":{"datum":-3.1,"type":"quantitative"},"y2":{"datum":20.8}}},
{"data":{"values":[{"arrow":"a to c"}]},"mark":{"type":"point","shape":"triangle-down","filled":true,"color":"#e3141b","opacity":1,"size":130},"encoding":{"x":{"datum":10.009,"type":"quantitative"},"y":{"datum":21.07,"type":"quantitative"}}}
]
},
{
"layer":[
{"data":{"values":[{"part":"column header"}]},"mark":{"type":"rect","fill":"#e3e3e3"},"encoding":{"x":{"datum":16,"type":"quantitative"},"x2":{"datum":28},"y":{"datum":0,"type":"quantitative"},"y2":{"datum":1}}},
{"data":{"name":"colbounds"},"transform":[{"filter":"datum.col >= 16"}],"mark":{"type":"rule","color":"#d3d3d3","strokeWidth":1},"encoding":{"x":{"field":"col","type":"quantitative"},"y":{"datum":0,"type":"quantitative"},"y2":{"datum":20}}},
{"data":{"name":"rowbounds"},"transform":[{"filter":"datum.row >= 1"}],"mark":{"type":"rule","color":"#d9d9d9","strokeWidth":1},"encoding":{"y":{"field":"row","type":"quantitative"},"x":{"datum":16,"type":"quantitative"},"x2":{"datum":28}}},
{"data":{"name":"letters"},"transform":[{"filter":"datum.col > 16"}],"mark":{"type":"text","fontSize":14.5,"color":"#444444","align":"center","baseline":"middle"},"encoding":{"x":{"field":"col","type":"quantitative"},"y":{"datum":0.586,"type":"quantitative"},"text":{"field":"t","type":"nominal"}}},
{
"encoding":{"x":{"field":"col","type":"quantitative","axis":null,"scale":{"domain":[15,16,17,18,19,20,21,22,23,24,25,26,27,28],"range":[0,36,124,212,299,387,477,576,675,775,867,963,1051,1143],"nice":false,"zero":false}},
"y":{"field":"row","type":"quantitative","axis":null,"scale":{"domain":[0,1,2,3,4,5,6,7,8,9,10,11,12,13,14,15,16,17,18,19,20],"range":[758,787,812,837,862,887,912,937,962,987,1012,1037,1062,1087,1112,1137,1158,1181,1204,1225,1247],"nice":false,"zero":false}}},
"layer":[
{"data":{"name":"c_chartareas"},"mark":{"type":"rect","fill":"#ffffff","stroke":"#d9d9d9","strokeWidth":1},"encoding":{"x2":{"field":"col2"},"y2":{"field":"row2"}}},
{"data":{"name":"right_lines"},"mark":{"type":"rule","color":"#4a4a4a","strokeWidth":1.2},"encoding":{"x2":{"field":"col2"},"y2":{"field":"row2"}}},
{"data":{"name":"right_thick"},"mark":{"type":"rule","color":"#1e1e1e","strokeWidth":2.2},"encoding":{"x2":{"field":"col2"},"y2":{"field":"row2"}}},
{"data":{"name":"lab_l"},"transform":[{"filter":"datum.col >= 16"}],"mark":{"type":"text","fontSize":15.5,"color":"#1a1a1a","align":"left","baseline":"middle","dx":3},"encoding":{"text":{"field":"t","type":"nominal"}}},
{"data":{"name":"seg_r"},"transform":[{"filter":"datum.col >= 16"}],"mark":{"type":"text","fontSize":15.5,"color":"#1a1a1a","align":"right","baseline":"middle"},"encoding":{"text":{"field":"t","type":"nominal"}}},
{"data":{"name":"seg_l"},"transform":[{"filter":"datum.col >= 16"}],"mark":{"type":"text","fontSize":15.5,"color":"#1a1a1a","align":"left","baseline":"middle"},"encoding":{"text":{"field":"t","type":"nominal"}}},
{"data":{"name":"sub_l"},"transform":[{"filter":"datum.col >= 16"}],"mark":{"type":"text","fontSize":10.5,"color":"#1a1a1a","align":"left","baseline":"middle","dy":4.5},"encoding":{"text":{"field":"t","type":"nominal"}}},
{"data":{"name":"c_bot_r"},"mark":{"type":"text","fontSize":15.5,"color":"#1a1a1a","align":"right","baseline":"middle","dx":-4},"encoding":{"text":{"field":"t","type":"nominal"}}}
]
},
{"data":{"values":[{"panel":"c"}]},"mark":{"type":"text","font":"Liberation Sans","fontWeight":"bold","fontSize":24,"color":"#000000","align":"left","baseline":"alphabetic"},"encoding":{"x":{"datum":15.361,"type":"quantitative"},"y":{"datum":0.828,"type":"quantitative"},"text":{"field":"panel","type":"nominal"}}}
]
},
{
"layer":[
{"data":{"name":"yticks"},"mark":{"type":"rule","color":"#d9d9d9","strokeWidth":1},"encoding":{"y":{"field":"v","type":"quantitative"},"x":{"datum":0,"type":"quantitative"},"x2":{"datum":6}}},
{"data":{"name":"xticks"},"mark":{"type":"rule","color":"#d9d9d9","strokeWidth":1},"encoding":{"x":{"field":"v","type":"quantitative"},"y":{"datum":0,"type":"quantitative"},"y2":{"datum":0.35}}},
{"data":{"name":"yticks"},"mark":{"type":"text","fontSize":12.5,"color":"#595959","align":"right","baseline":"middle","dx":-12.5},"encoding":{"y":{"field":"v","type":"quantitative"},"x":{"datum":0,"type":"quantitative"},"text":{"field":"v","type":"quantitative","format":".2~f"}}},
{"data":{"name":"xticks"},"mark":{"type":"text","fontSize":12.5,"color":"#595959","align":"center","baseline":"middle","dy":18},"encoding":{"x":{"field":"v","type":"quantitative"},"y":{"datum":0,"type":"quantitative"},"text":{"field":"v","type":"quantitative","format":"d"}}},
{"data":{"values":[{"title":"3³-FRET"}]},"mark":{"type":"text","fontSize":17.5,"color":"#595959","align":"center","baseline":"middle","dx":-28,"dy":-30},"encoding":{"x":{"datum":3,"type":"quantitative"},"y":{"datum":0.35,"type":"quantitative"},"text":{"field":"title","type":"nominal"}}},
{"data":{"values":[{"t":"E","sub":"A"}]},"mark":{"type":"text","fontSize":13,"color":"#595959","align":"right","baseline":"middle","dx":-52.8,"dy":10},"encoding":{"x":{"datum":0,"type":"quantitative"},"y":{"datum":0.35,"type":"quantitative"},"text":{"field":"t","type":"nominal"}}},
{"data":{"values":[{"t":"E","sub":"A"}]},"mark":{"type":"text","fontSize":9.5,"color":"#595959","align":"left","baseline":"middle","dx":-52.8,"dy":14},"encoding":{"x":{"datum":0,"type":"quantitative"},"y":{"datum":0.35,"type":"quantitative"},"text":{"field":"sub","type":"nominal"}}},
{"data":{"values":[{"t":"D","sub":"free"}]},"mark":{"type":"text","fontSize":13,"color":"#595959","align":"right","baseline":"middle","dx":-20.9,"dy":46.7},"encoding":{"x":{"datum":6,"type":"quantitative"},"y":{"datum":0,"type":"quantitative"},"text":{"field":"t","type":"nominal"}}},
{"data":{"values":[{"t":"D","sub":"free"}]},"mark":{"type":"text","fontSize":9.5,"color":"#595959","align":"left","baseline":"middle","dx":-20.9,"dy":50.7},"encoding":{"x":{"datum":6,"type":"quantitative"},"y":{"datum":0,"type":"quantitative"},"text":{"field":"sub","type":"nominal"}}},
{
"encoding":{"x":{"field":"conc","type":"quantitative","axis":null,"scale":{"domain":[0,6],"range":[114.8,549.3],"nice":false,"zero":false}},"y":{"field":"E","type":"quantitative","axis":null,"scale":{"domain":[0,0.35],"range":[1046,850],"nice":false,"zero":false}}},
"layer":[
{"data":{"name":"trend"},"mark":{"type":"line","color":"#7f7f7f","strokeWidth":1.3},"encoding":{}},
{"data":{"name":"tri"},"mark":{"type":"point","shape":"triangle-up","filled":true,"color":"#a5a5a5","opacity":1,"size":85},"encoding":{}},
{"data":{"name":"pts_3cube"},"mark":{"type":"point","shape":"circle","filled":true,"color":"#5b9bd5","opacity":1,"size":72},"encoding":{}},
{"data":{"name":"fit_3cube"},"mark":{"type":"line","color":"#000000","strokeWidth":2.8},"encoding":{}}
]
}
]
},
{
"layer":[
{"data":{"name":"yticks"},"mark":{"type":"rule","color":"#d9d9d9","strokeWidth":1},"encoding":{"y":{"field":"v","type":"quantitative"},"x":{"datum":0,"type":"quantitative"},"x2":{"datum":6}}},
{"data":{"name":"xticks"},"mark":{"type":"rule","color":"#d9d9d9","strokeWidth":1},"encoding":{"x":{"field":"v","type":"quantitative"},"y":{"datum":0,"type":"quantitative"},"y2":{"datum":0.35}}},
{"data":{"name":"yticks"},"mark":{"type":"text","fontSize":12.5,"color":"#595959","align":"right","baseline":"middle","dx":-12.8},"encoding":{"y":{"field":"v","type":"quantitative"},"x":{"datum":0,"type":"quantitative"},"text":{"field":"v","type":"quantitative","format":".2~f"}}},
{"data":{"name":"xticks"},"mark":{"type":"text","fontSize":12.5,"color":"#595959","align":"center","baseline":"middle","dy":18},"encoding":{"x":{"field":"v","type":"quantitative"},"y":{"datum":0,"type":"quantitative"},"text":{"field":"v","type":"quantitative","format":"d"}}},
{"data":{"values":[{"title":"E-FRET"}]},"mark":{"type":"text","fontSize":17.5,"color":"#595959","align":"center","baseline":"middle","dx":-28.85,"dy":-30},"encoding":{"x":{"datum":3,"type":"quantitative"},"y":{"datum":0.35,"type":"quantitative"},"text":{"field":"title","type":"nominal"}}},
{"data":{"values":[{"t":"E","sub":"D"}]},"mark":{"type":"text","fontSize":13,"color":"#595959","align":"right","baseline":"middle","dx":-55.2,"dy":10.7},"encoding":{"x":{"datum":0,"type":"quantitative"},"y":{"datum":0.35,"type":"quantitative"},"text":{"field":"t","type":"nominal"}}},
{"data":{"values":[{"t":"E","sub":"D"}]},"mark":{"type":"text","fontSize":9.5,"color":"#595959","align":"left","baseline":"middle","dx":-55.2,"dy":14.7},"encoding":{"x":{"datum":0,"type":"quantitative"},"y":{"datum":0.35,"type":"quantitative"},"text":{"field":"sub","type":"nominal"}}},
{"data":{"values":[{"t":"A","sub":"free"}]},"mark":{"type":"text","fontSize":13,"color":"#595959","align":"right","baseline":"middle","dx":-25,"dy":46.7},"encoding":{"x":{"datum":6,"type":"quantitative"},"y":{"datum":0,"type":"quantitative"},"text":{"field":"t","type":"nominal"}}},
{"data":{"values":[{"t":"A","sub":"free"}]},"mark":{"type":"text","fontSize":9.5,"color":"#595959","align":"left","baseline":"middle","dx":-25,"dy":50.7},"encoding":{"x":{"datum":6,"type":"quantitative"},"y":{"datum":0,"type":"quantitative"},"text":{"field":"sub","type":"nominal"}}},
{
"encoding":{"x":{"field":"conc","type":"quantitative","axis":null,"scale":{"domain":[0,6],"range":[652.2,1113.5],"nice":false,"zero":false}},"y":{"field":"E","type":"quantitative","axis":null,"scale":{"domain":[0,0.35],"range":[1046,850],"nice":false,"zero":false}}},
"layer":[
{"data":{"name":"trend"},"mark":{"type":"line","color":"#7f7f7f","strokeWidth":1.3},"encoding":{}},
{"data":{"name":"tri"},"mark":{"type":"point","shape":"triangle-up","filled":true,"color":"#a5a5a5","opacity":1,"size":85},"encoding":{}},
{"data":{"name":"pts_efret"},"mark":{"type":"point","shape":"circle","filled":true,"color":"#5b9bd5","opacity":1,"size":72},"encoding":{}},
{"data":{"name":"fit_efret"},"mark":{"type":"line","color":"#000000","strokeWidth":2.8},"encoding":{}}
]
}
]
}
]
}
